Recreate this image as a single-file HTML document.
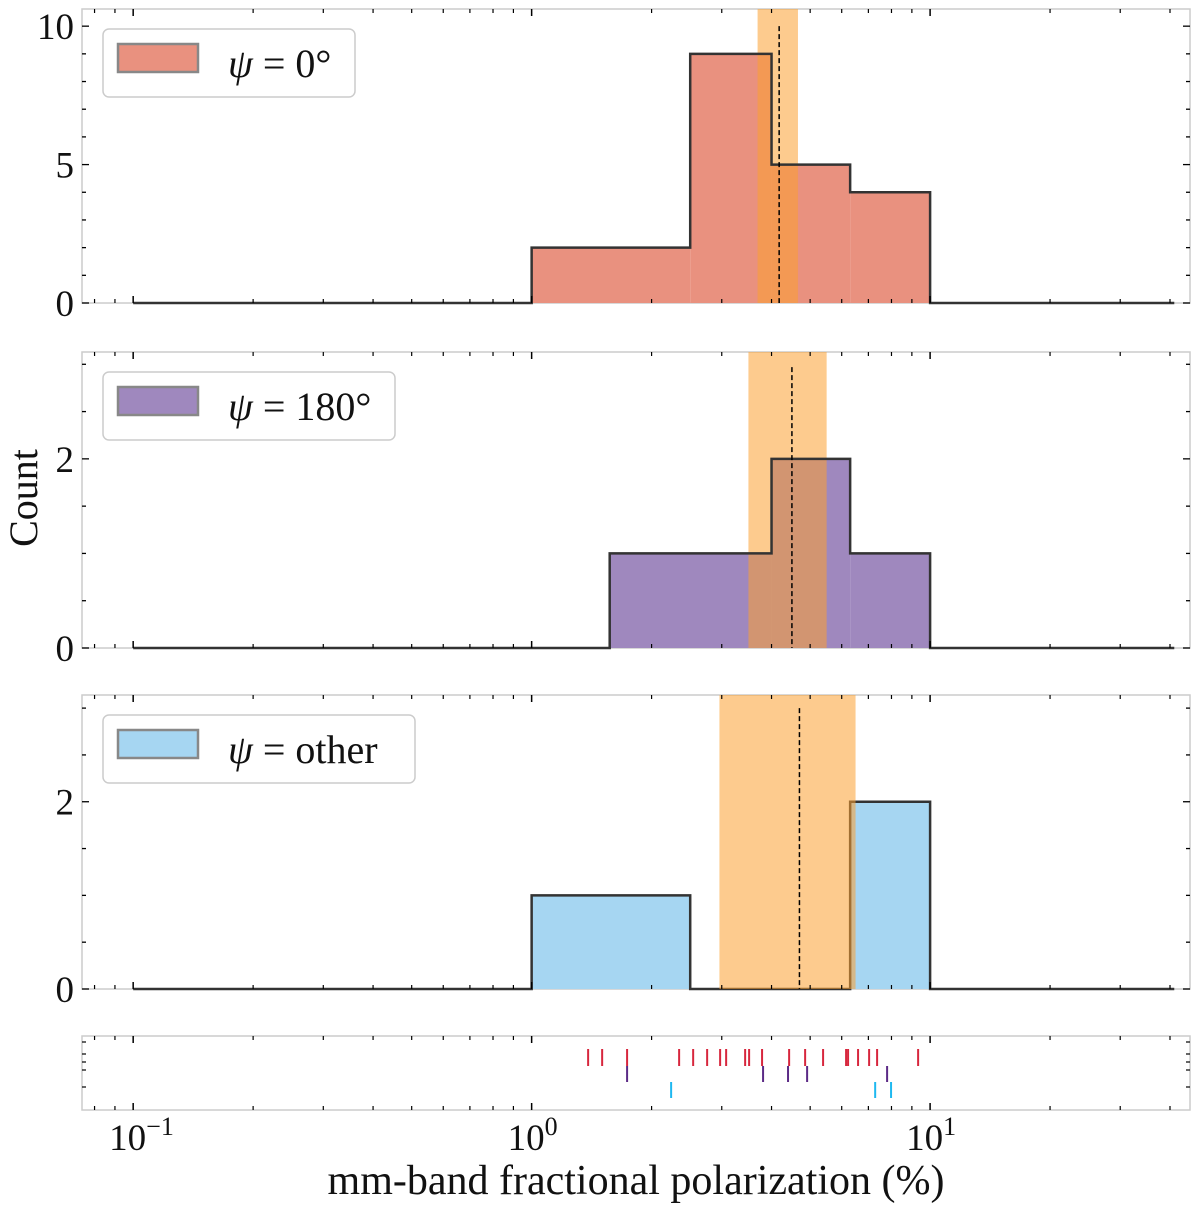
<!DOCTYPE html>
<html><head><meta charset="utf-8"><style>
body{margin:0;background:#fff}
svg text{font-family:"Liberation Serif",serif;fill:#111}
</style></head><body>
<svg id="c" width="1200" height="1213" xmlns="http://www.w3.org/2000/svg"></svg>
<script>
// ---- data ----
const binEdges0 = [0.1, 1.0, 2.5, 4.0, 6.3, 10, 41];
const binEdges180 = [0.1, 1.0, 1.57, 4.0, 6.3, 10, 41];
const counts0 = [0, 2, 9, 5, 4, 0];
const counts180 = [0, 0, 1, 2, 1, 0];
const countsOther = [0, 1, 0, 0, 2, 0];
const median0 = 4.18, band0 = [3.69, 4.66];
const median180 = 4.5, band180 = [3.5, 5.5];
const medianOther = 4.7, bandOther = [2.96, 6.5];
const rug0 = [1.386,1.503,1.736,2.345,2.543,2.757,2.972,3.077,3.434,3.514,3.787,4.428,4.857,5.388,6.154,6.225,6.595,7.03,7.362,9.331];
const rug180 = [1.736,3.809,4.40,4.913,7.80];
const rugOther = [2.239,7.28,7.98];
const xTickLabels = ["−1","0","1"];
const legendLabels = ["0°","180°","other"];

const svg = document.getElementById('c');
const NS = 'http://www.w3.org/2000/svg';
function mk(tag, attrs, parent){const e=document.createElementNS(NS,tag);for(const k in attrs)e.setAttribute(k,attrs[k]);(parent||svg).appendChild(e);return e;}
const X0=82, X1=1190, LMIN=Math.log10(0.0744), LMAX=Math.log10(44.9);
function xs(v){return X0+(Math.log10(v)-LMIN)/(LMAX-LMIN)*(X1-X0);}

const panels=[
 {top:9,bot:303,ymax:10.62,edges:binEdges0,counts:counts0,color:'#E9917F',band:band0,med:median0,medTop:10,majors:[0,5,10],minor:1,label:legendLabels[0],lw:252,name:'psi-0',bandOver:false},
 {top:352,bot:648,ymax:3.13,edges:binEdges180,counts:counts180,color:'#9F88BE',band:band180,med:median180,medTop:2.97,majors:[0,2],minor:0.5,label:legendLabels[1],lw:292,name:'psi-180',bandOver:false},
 {top:695,bot:989,ymax:3.14,edges:binEdges0,counts:countsOther,color:'#A6D6F2',band:bandOther,med:medianOther,medTop:3.0,majors:[0,2],minor:0.5,label:legendLabels[2],lw:312,name:'psi-other',bandOver:true}
];
const minorX=[];for(let d=-2;d<=1;d++)for(let m=2;m<=9;m++){const v=m*Math.pow(10,d);if(v>0.0744&&v<44.9)minorX.push(v);}
const majorX=[0.1,1,10];

function xTicks(g,top,bot){
 majorX.forEach(v=>{mk('line',{x1:xs(v),x2:xs(v),y1:bot,y2:bot-7,stroke:'#000','stroke-width':1.5},g);mk('line',{x1:xs(v),x2:xs(v),y1:top,y2:top+7,stroke:'#000','stroke-width':1.5},g);});
 minorX.forEach(v=>{mk('line',{x1:xs(v),x2:xs(v),y1:bot,y2:bot-4,stroke:'#000','stroke-width':1.2},g);mk('line',{x1:xs(v),x2:xs(v),y1:top,y2:top+4,stroke:'#000','stroke-width':1.2},g);});
}

panels.forEach(p=>{
 const g=mk('g',{});
 
 
 const ys=v=>p.bot-v/p.ymax*(p.bot-p.top);
 mk('rect',{x:X0,y:p.top,width:X1-X0,height:p.bot-p.top,fill:'none',stroke:'#ccc','stroke-width':1.5},g);
 let path='M'+xs(p.edges[0])+','+ys(0);
 for(let i=0;i<p.counts.length;i++){
   const l=p.edges[i], c=p.counts[i];
   if(c>0){const r=mk('rect',{x:xs(l),y:ys(c),width:xs(p.edges[i+1])-xs(l),height:ys(0)-ys(c),fill:p.color},g);
     }
   path+=' L'+xs(l)+','+ys(c)+' L'+xs(p.edges[i+1])+','+ys(c);
 }
 path+=' L'+xs(p.edges[p.edges.length-1])+','+ys(0);
 const drawBand=()=>{const band=mk('rect',{x:xs(p.band[0]),y:p.top,width:xs(p.band[1])-xs(p.band[0]),height:p.bot-p.top,fill:'rgba(251,160,50,0.55)'},g);
 };
 if(!p.bandOver)drawBand();
 const out=mk('path',{d:path,fill:'none',stroke:'#333','stroke-width':2.5,'stroke-linejoin':'miter'},g);
 
 if(p.bandOver)drawBand();
 const med=mk('line',{x1:xs(p.med),x2:xs(p.med),y1:ys(p.medTop),y2:p.bot,stroke:'#000','stroke-width':1.5,'stroke-dasharray':'5,3'},g);
 
 xTicks(g,p.top,p.bot);
 for(let v=0;v<=p.ymax;v+=p.minor){const maj=p.majors.some(m=>Math.abs(m-v)<1e-6);const L=maj?7:4;
   mk('line',{x1:X0,x2:X0+L,y1:ys(v),y2:ys(v),stroke:'#000','stroke-width':1.3},g);
   mk('line',{x1:X1,x2:X1-L,y1:ys(v),y2:ys(v),stroke:'#000','stroke-width':1.3},g);}
 p.majors.forEach(m=>{const t=mk('text',{x:74,y:ys(m)+13,'text-anchor':'end','font-size':37},g);t.textContent=m;
   });
 const lg=mk('g',{},g);
 
 mk('rect',{x:103,y:p.top+20,width:p.lw,height:68,rx:6,fill:'#fff',stroke:'#ccc','stroke-width':1.5},lg);
 mk('rect',{x:118,y:p.top+35,width:80,height:28,fill:p.color,stroke:'#888','stroke-width':2.5},lg);
 const t=mk('text',{x:228,y:p.top+68,'font-size':40},lg);
 t.innerHTML='<tspan font-style="italic">ψ</tspan> = '+p.label;
});

const rg=mk('g',{});

const RT=1036,RB=1110;
mk('rect',{x:X0,y:RT,width:X1-X0,height:RB-RT,fill:'none',stroke:'#ccc','stroke-width':1.5},rg);
[[rug0,'#D7263D',1049,1066],[rug180,'#5B2A86',1066,1082],[rugOther,'#1EB8F0',1082,1098]].forEach(([arr,col,y1,y2])=>{
 arr.forEach(v=>{const l=mk('line',{x1:xs(v),x2:xs(v),y1:y1,y2:y2,stroke:col,'stroke-width':2},rg);
  });
});
xTicks(rg,RT,RB);
[1042,1054,1062,1070,1087].forEach(y=>{mk('line',{x1:X0,x2:X0+4,y1:y,y2:y,stroke:'#000','stroke-width':1.2},rg);mk('line',{x1:X1,x2:X1-4,y1:y,y2:y,stroke:'#000','stroke-width':1.2},rg);});
majorX.forEach((v,i)=>{const t=mk('text',{x:xs(v)-24,y:1150,'font-size':37},rg);
 t.innerHTML='10<tspan dy="-15" font-size="26">'+xTickLabels[i]+'</tspan>';
 });
const xl=mk('text',{x:636,y:1194,'text-anchor':'middle','font-size':42});
xl.textContent='mm-band fractional polarization (%)';

const yl=mk('text',{x:0,y:0,'text-anchor':'middle','font-size':40,transform:'translate(37,498) rotate(-90)'});
yl.textContent='Count';

</script>
</body></html>
